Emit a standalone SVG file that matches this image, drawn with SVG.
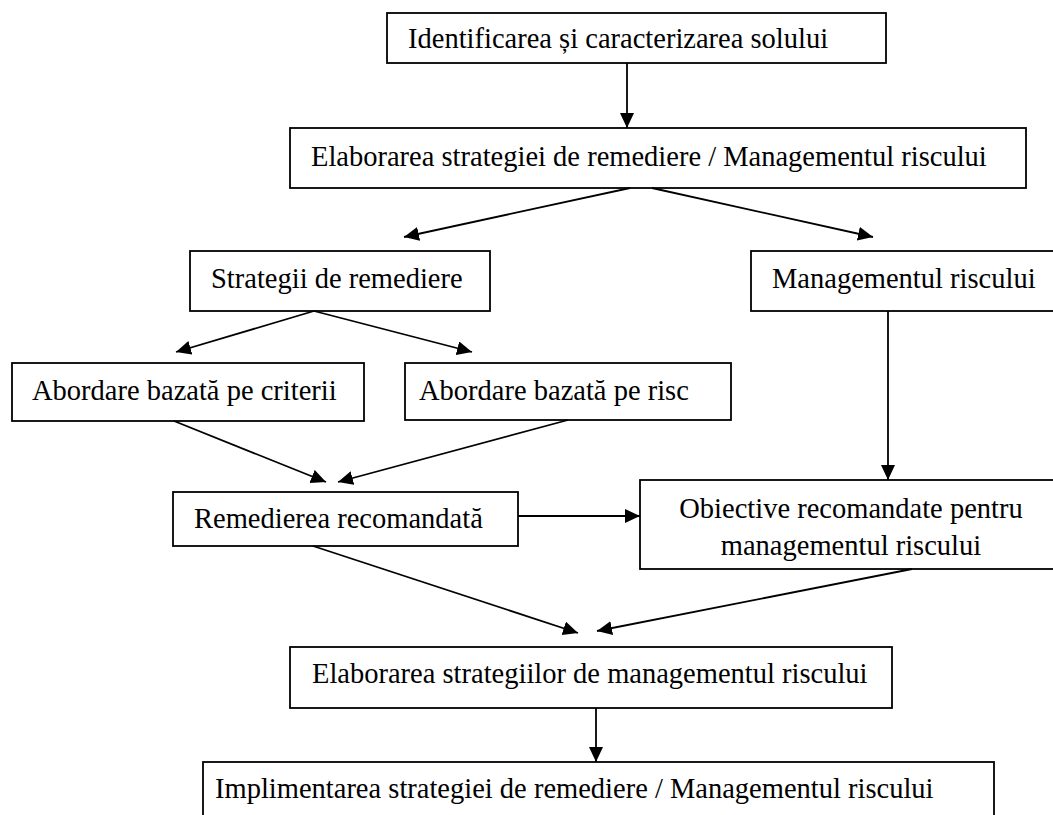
<svg xmlns="http://www.w3.org/2000/svg" width="1053" height="815" viewBox="0 0 1053 815">
<style>
rect{fill:#fff;stroke:#000;stroke-width:1.8}
text{font-family:"Liberation Serif","Times New Roman",serif;font-size:28.5px;fill:#000}
.c line{stroke:#000;stroke-width:1.8;marker-end:url(#ah)}
</style>
<defs>
<marker id="ah" markerUnits="userSpaceOnUse" markerWidth="16" markerHeight="14" refX="15" refY="7" orient="auto">
<path d="M0,0 L15,7 L0,14 z" fill="#000"/>
</marker>
</defs>
<rect x="0" y="0" width="1053" height="815" style="stroke:none"/>
<g id="n1"><rect x="387" y="13" width="499" height="50"/><text x="408" y="48">Identificarea și caracterizarea solului</text></g>
<g id="n2"><rect x="290" y="128" width="736" height="60"/><text x="311" y="166">Elaborarea strategiei de remediere / Managementul riscului</text></g>
<g id="n3"><rect x="190" y="251" width="300" height="60"/><text x="211" y="288">Strategii de remediere</text></g>
<g id="n4"><rect x="751" y="251" width="307" height="60"/><text x="772" y="288">Managementul riscului</text></g>
<g id="n5"><rect x="12" y="363" width="352" height="58"/><text x="32" y="400">Abordare bazată pe criterii</text></g>
<g id="n6"><rect x="405" y="363" width="326" height="57"/><text x="419" y="400">Abordare bazată pe risc</text></g>
<g id="n7"><rect x="173" y="492" width="345" height="54"/><text x="194" y="528">Remedierea recomandată</text></g>
<g id="n8"><rect x="640" y="480" width="422" height="89"/><text x="851" y="518" text-anchor="middle">Obiective recomandate pentru</text><text x="851" y="555" text-anchor="middle">managementul riscului</text></g>
<g id="n9"><rect x="290" y="647" width="602" height="61"/><text x="312" y="683">Elaborarea strategiilor de managementul riscului</text></g>
<g id="n10"><rect x="203" y="762" width="791" height="70"/><text x="215" y="798">Implimentarea strategiei de remediere / Managementul riscului</text></g>
<g id="connectors" class="c">
<line x1="627" y1="63" x2="627" y2="128"/>
<line x1="630" y1="188" x2="404" y2="237"/>
<line x1="652" y1="188" x2="873" y2="237"/>
<line x1="314" y1="311" x2="176" y2="352"/>
<line x1="314" y1="311" x2="472" y2="352"/>
<line x1="888" y1="311" x2="888" y2="480"/>
<line x1="174" y1="421" x2="326" y2="482"/>
<line x1="568" y1="420" x2="338" y2="482"/>
<line x1="518" y1="516" x2="640" y2="516"/>
<line x1="313" y1="546" x2="578" y2="633"/>
<line x1="912" y1="569" x2="597" y2="631"/>
<line x1="596" y1="708" x2="596" y2="762"/>
</g>
</svg>
